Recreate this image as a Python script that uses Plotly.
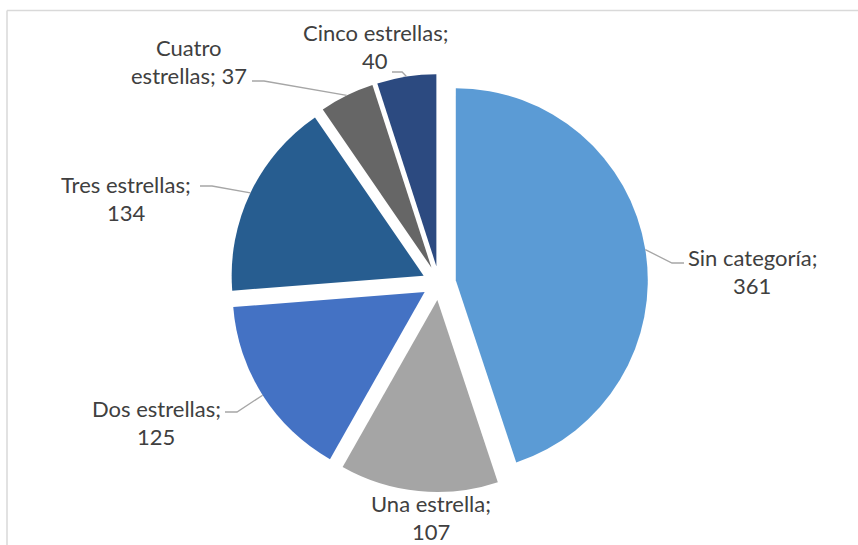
import math
import plotly.graph_objects as go

# Hotel counts by star category
categories = ["Sin categoría", "Una estrella", "Dos estrellas",
              "Tres estrellas", "Cuatro estrellas", "Cinco estrellas"]
values = [361, 107, 125, 134, 37, 40]
colors = ["#5B9BD5", "#A5A5A5", "#4472C4", "#275D90", "#666666", "#2C4A80"]

# Label lines (two lines per label) and their centre positions in pixels
label_lines = [
    ("{n};", "{v}"),
    ("{n};", "{v}"),
    ("{n};", "{v}"),
    ("{n};", "{v}"),
    ("Cuatro", "estrellas; {v}"),
    ("{n};", "{v}"),
]
label_pos = [(752, 257), (431, 503), (156, 408), (126, 184), (189, 47), (375, 32)]
line_gap = 28
# Start of each leader line (label side); None = no leader
leader_start = [(684, 263), None, (225, 412), (200, 186), (252, 81), (392, 72)]

W, H = 858, 545
CX, CY, R, PULL = 439, 283, 192, 17
pull_frac = PULL / R
box = 2 * R * (1 + pull_frac)

def px(x):
    return x / W

def py(y):
    return 1 - y / H

fig = go.Figure(go.Pie(
    labels=categories,
    values=values,
    sort=False,
    direction="clockwise",
    rotation=0,
    pull=[pull_frac] * len(values),
    marker=dict(colors=colors, line=dict(color="white", width=0)),
    textinfo="none",
    hoverinfo="label+value",
    showlegend=False,
    domain=dict(x=[px(CX - box / 2), px(CX + box / 2)],
                y=[py(CY + box / 2), py(CY - box / 2)]),
))

font = dict(family="Lato, Carlito, Calibri, sans-serif", size=22, color="#404040")
annotations = []
shapes = []
total = sum(values)
cum = 0
for i, (name, v) in enumerate(zip(categories, values)):
    mid = (cum + v / 2) / total * 2 * math.pi
    cum += v
    lx, ly = label_pos[i]
    for k, line in enumerate(label_lines[i]):
        annotations.append(dict(
            x=px(lx), y=py(ly + k * line_gap), xref="paper", yref="paper",
            text=line.format(n=name, v=v), showarrow=False,
            xanchor="center", yanchor="middle", font=font))
    if leader_start[i] is not None:
        ex = CX + (R + PULL) * math.sin(mid)
        ey = CY - (R + PULL) * math.cos(mid)
        sx, sy = leader_start[i]
        hx = sx + (12 if ex > sx else -12)
        if abs(ex - sx) < 20:
            hx = sx + (ex - sx) * 0.7
        path = f"M {px(sx)} {py(sy)} L {px(hx)} {py(sy)} L {px(ex)} {py(ey)}"
        shapes.append(dict(type="path", path=path, xref="paper", yref="paper",
                           line=dict(color="#A6A6A6", width=1.3)))

# Chart frame
shapes.append(dict(type="line", xref="paper", yref="paper",
                   x0=px(7), y0=py(10.5), x1=px(W + 5), y1=py(10.5),
                   line=dict(color="#D9D9D9", width=1.5)))
shapes.append(dict(type="line", xref="paper", yref="paper",
                   x0=px(7), y0=py(10.5), x1=px(7), y1=py(H + 5),
                   line=dict(color="#D9D9D9", width=1.5)))

fig.update_layout(
    width=W, height=H,
    margin=dict(l=0, r=0, t=0, b=0),
    paper_bgcolor="white",
    plot_bgcolor="white",
    annotations=annotations,
    shapes=shapes,
)

fig.write_html("out.html")
